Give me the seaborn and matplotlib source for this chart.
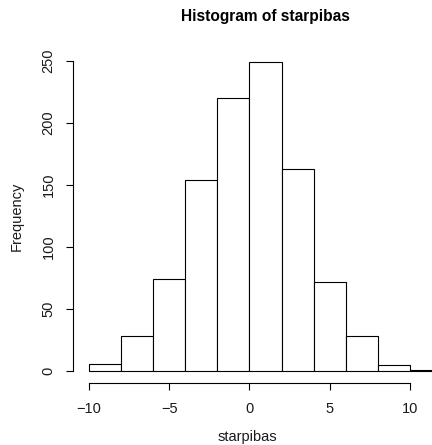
import os
import numpy as np
import pandas as pd
import matplotlib
matplotlib.use("Agg")
import matplotlib.pyplot as plt
from matplotlib import font_manager as fm
import seaborn as sns

# Histogram bins and counts
bin_edges = [-10, -8, -6, -4, -2, 0, 2, 4, 6, 8, 10, 12]
counts = [6, 28, 74, 154, 220, 249, 163, 72, 28, 5, 1]
x_ticks = [-10, -5, 0, 5, 10]
y_ticks = [0, 50, 100, 150, 200, 250]

sns.set_theme(style="white")

# register the regular-width Liberation Sans files explicitly
for f in fm.findSystemFonts():
    if os.path.basename(f).startswith("LiberationSans-"):
        fm.fontManager.addfont(f)
regular = [f for f in fm.findSystemFonts() if os.path.basename(f) == "LiberationSans-Regular.ttf"]
bold = [f for f in fm.findSystemFonts() if os.path.basename(f) == "LiberationSans-Bold.ttf"]
fp_reg = fm.FontProperties(fname=regular[0]) if regular else fm.FontProperties(family="DejaVu Sans")
fp_bold = fm.FontProperties(fname=bold[0]) if bold else fm.FontProperties(family="DejaVu Sans", weight="bold")

W, H = 432, 445
fig = plt.figure(figsize=(W / 100, H / 100), dpi=100)
fig.patch.set_facecolor("white")

# plot region in pixels (extends past the right edge of the figure)
left, right, bottom, top = 75, 456, 383.4, 49.9
ax = fig.add_axes([left / W, 1 - bottom / H, (right - left) / W, (bottom - top) / H])
ax.set_facecolor("white")

centers = [(a + b) / 2 for a, b in zip(bin_edges[:-1], bin_edges[1:])]
df = pd.DataFrame({"starpibas": centers, "n": counts})
sns.histplot(data=df, x="starpibas", weights="n", bins=bin_edges, ax=ax,
             color="white", edgecolor="black", linewidth=0.8, alpha=1)

ax.set_xlim(-10.88, 12.88)
ax.set_ylim(-9.96, 258.96)
ax.set_xticks(x_ticks)
ax.set_yticks(y_ticks)
ax.set_xticklabels([f"{t}".replace("-", "\u2212") for t in x_ticks])
ax.set_yticklabels([str(t) for t in y_ticks])

for s in ["top", "right"]:
    ax.spines[s].set_visible(False)
for s in ["left", "bottom"]:
    ax.spines[s].set_color("black")
    ax.spines[s].set_linewidth(0.8)
ax.spines["bottom"].set_bounds(-10, 10)
ax.spines["left"].set_bounds(0, 250)
ax.spines["left"].set_position(("outward", 1.5))

ax.tick_params(axis="both", which="major", direction="out", length=5,
               width=0.8, color="black", labelcolor="#1a1a1a",
               bottom=True, left=True)
ax.tick_params(axis="x", pad=8.5)
ax.tick_params(axis="y", pad=7.5, labelrotation=90)
for lab in ax.get_xticklabels() + ax.get_yticklabels():
    lab.set_fontproperties(fp_reg)
    lab.set_fontsize(10.5)
for lab in ax.get_yticklabels():
    lab.set_va("center")

ax.set_xlabel("")
ax.set_ylabel("")

fig.text(265 / W, 1 - 17 / H, "Histogram of starpibas", ha="center", va="center",
         fontproperties=fp_bold, fontsize=11.2, color="black")
fig.text(247 / W, 1 - 437 / H, "starpibas", ha="center", va="center",
         fontproperties=fp_reg, fontsize=10.5, color="#1a1a1a")
fig.text(17 / W, 1 - 216 / H, "Frequency", ha="center", va="center",
         rotation=90, fontproperties=fp_reg, fontsize=10.5, color="#1a1a1a")

fig.savefig("out.png", dpi=100, facecolor="white")
